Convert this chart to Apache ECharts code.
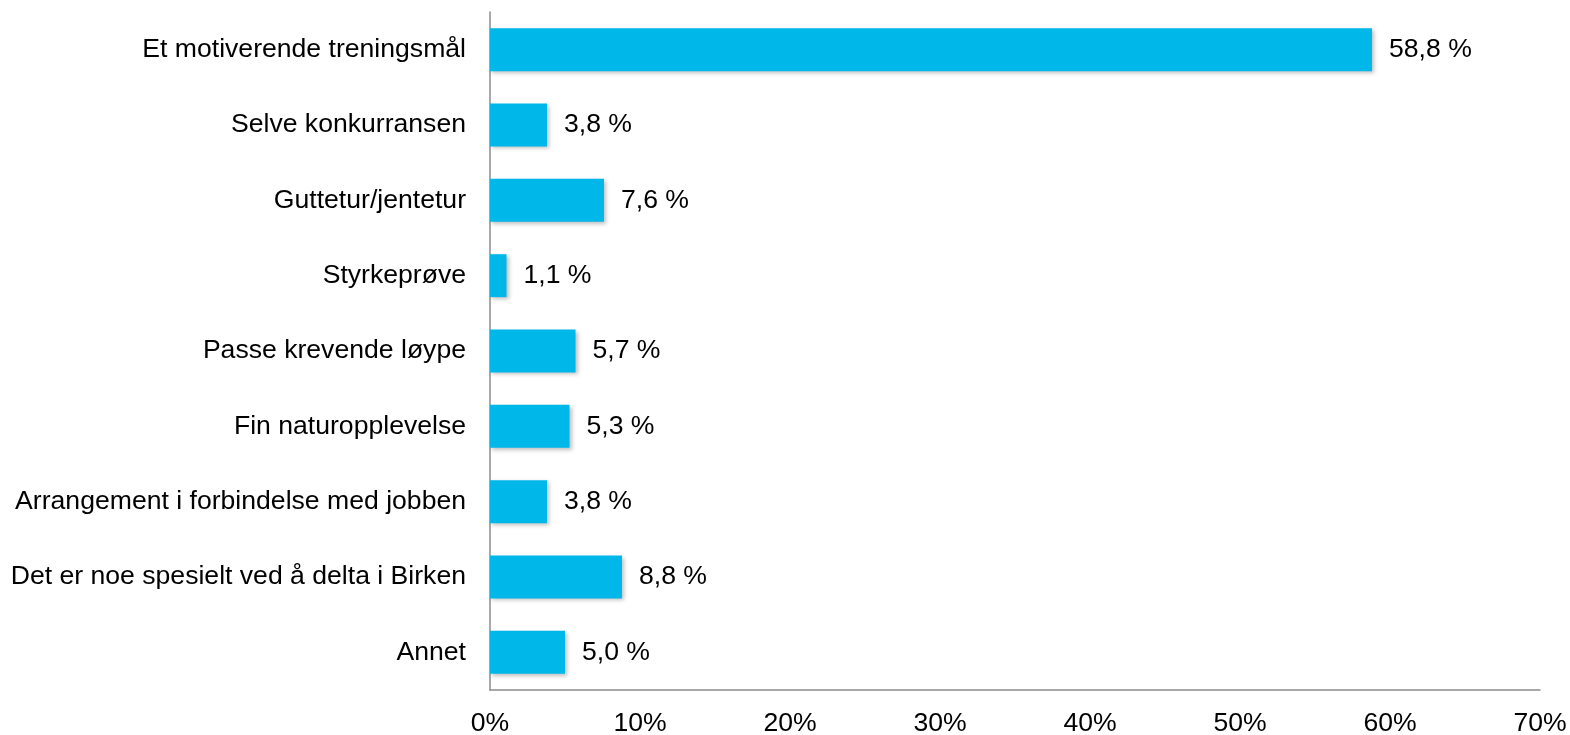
<!DOCTYPE html>
<html><head><meta charset="utf-8">
<script src="https://cdn.jsdelivr.net/npm/echarts@6/dist/echarts.min.js"></script>
<style>html,body{margin:0;padding:0;background:#fff}#c{width:1570px;height:735px}</style>
</head><body><div id="c"></div>
<script>
const categories = ["Et motiverende treningsmål","Selve konkurransen","Guttetur/jentetur","Styrkeprøve","Passe krevende løype","Fin naturopplevelse","Arrangement i forbindelse med jobben","Det er noe spesielt ved å delta i Birken","Annet"];
const values = [58.8, 3.8, 7.6, 1.1, 5.7, 5.3, 3.8, 8.8, 5.0];
const xTicks = [0, 10, 20, 30, 40, 50, 60, 70];

const chart = echarts.init(document.getElementById('c'));
chart.setOption({
  animation: false,
  grid: {left: 490, right: 30, top: 12, bottom: 45, containLabel: false, outerBoundsMode: 'none'},
  xAxis: {
    type: 'value', min: 0, max: 70, interval: 10,
    axisLine: {show: true, lineStyle: {color: '#8c8c8c', width: 1.5}},
    axisTick: {show: false}, splitLine: {show: false},
    axisLabel: {fontFamily: 'Liberation Sans', fontSize: 26.6, color: '#000', margin: 20,
      formatter: v => xTicks.includes(v) ? v + '%' : ''}
  },
  yAxis: {
    type: 'category', data: categories, inverse: true,
    axisLine: {show: true, lineStyle: {color: '#8c8c8c', width: 1.5}},
    axisTick: {show: false},
    axisLabel: {fontFamily: 'Liberation Sans', fontSize: 26.6, color: '#000', margin: 24}
  },
  series: [{
    type: 'bar', data: values, barWidth: '57%',
    itemStyle: {color: '#00B7EA', shadowColor: 'rgba(0,0,0,0.25)', shadowBlur: 4, shadowOffsetX: 2, shadowOffsetY: 2},
    label: {show: true, position: 'right', distance: 17, fontFamily: 'Liberation Sans', fontSize: 26.6, color: '#000',
      formatter: p => p.value.toFixed(1).replace('.', ',') + ' %'}
  }]
});
</script></body></html>
